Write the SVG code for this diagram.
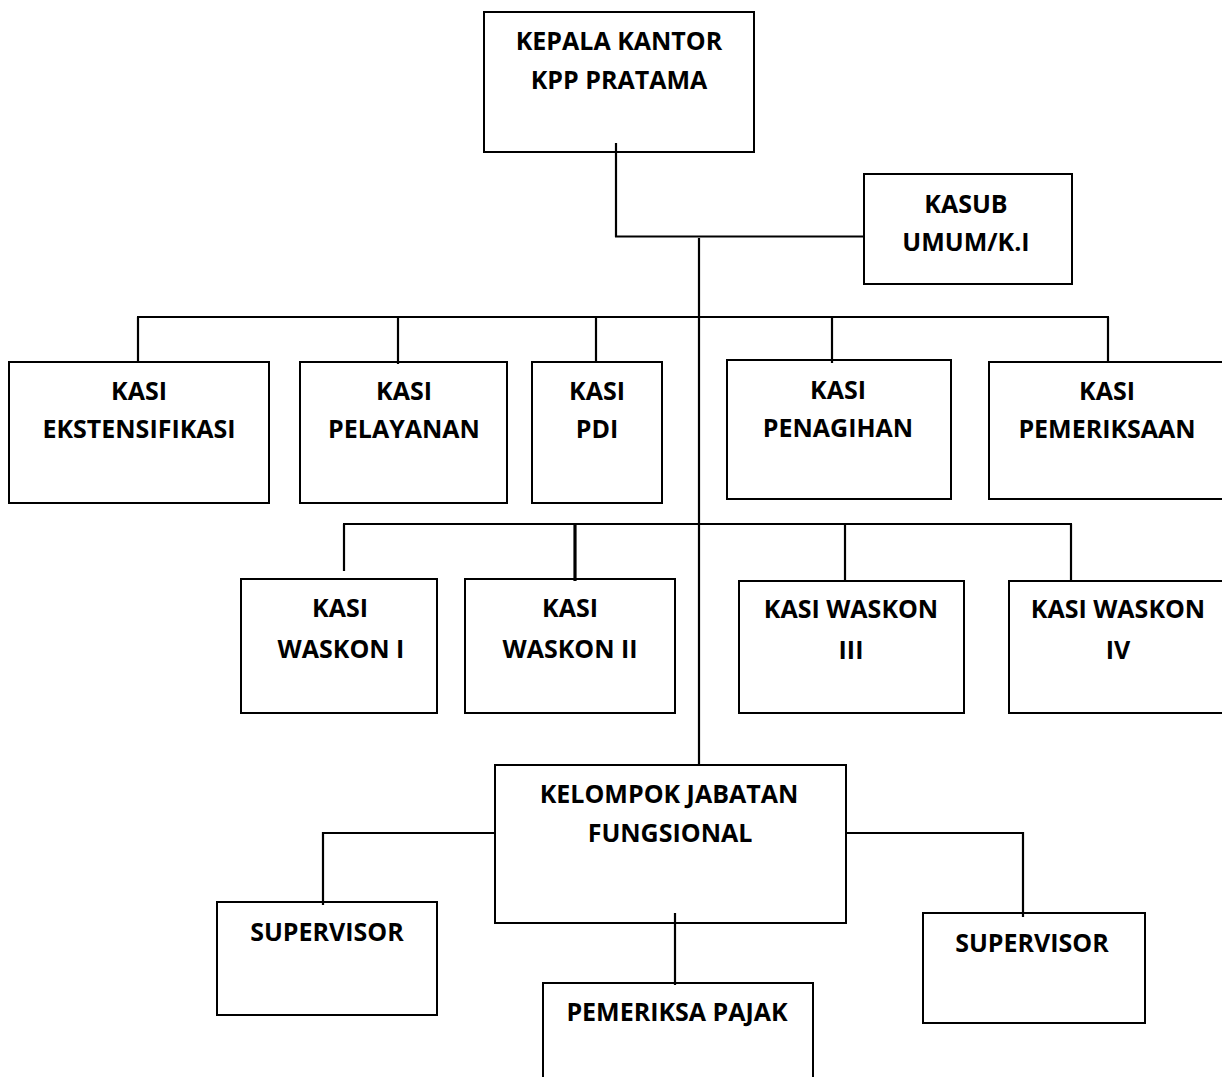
<svg xmlns="http://www.w3.org/2000/svg" width="1222" height="1077" viewBox="0 0 1222 1077">
<style>
.box{fill:#fff;stroke:#000;stroke-width:2}
.ln{fill:none;stroke:#000;stroke-width:2.2}
.t{font-family:"Open Sans","Liberation Sans",sans-serif;font-weight:bold;font-size:25px;fill:#000;text-anchor:middle}
</style>
<rect width="1222" height="1077" fill="#fff"/>
<g id="kepala"><rect class="box" x="484" y="12" width="270" height="140"/><text class="t" x="619" y="50">KEPALA KANTOR</text><text class="t" x="619" y="89">KPP PRATAMA</text></g>
<g id="kasub"><rect class="box" x="864" y="174" width="208" height="110"/><text class="t" x="966" y="213">KASUB</text><text class="t" x="966" y="251">UMUM/K.I</text></g>
<g id="ekstensifikasi"><rect class="box" x="9" y="362" width="260" height="141"/><text class="t" x="139" y="400">KASI</text><text class="t" x="139" y="438">EKSTENSIFIKASI</text></g>
<g id="pelayanan"><rect class="box" x="300" y="362" width="207" height="141"/><text class="t" x="404" y="400">KASI</text><text class="t" x="404" y="438">PELAYANAN</text></g>
<g id="pdi"><rect class="box" x="532" y="362" width="130" height="141"/><text class="t" x="597" y="400">KASI</text><text class="t" x="597" y="438">PDI</text></g>
<g id="penagihan"><rect class="box" x="727" y="360" width="224" height="139"/><text class="t" x="838" y="399">KASI</text><text class="t" x="838" y="437">PENAGIHAN</text></g>
<g id="pemeriksaan"><rect class="box" x="989" y="362" width="240" height="137"/><text class="t" x="1107" y="400">KASI</text><text class="t" x="1107" y="438">PEMERIKSAAN</text></g>
<g id="waskon1"><rect class="box" x="241" y="579" width="196" height="134"/><text class="t" x="340" y="617">KASI</text><text class="t" x="341" y="658">WASKON I</text></g>
<g id="waskon2"><rect class="box" x="465" y="579" width="210" height="134"/><text class="t" x="570" y="617">KASI</text><text class="t" x="570" y="658">WASKON II</text></g>
<g id="waskon3"><rect class="box" x="739" y="581" width="225" height="132"/><text class="t" x="851" y="618">KASI WASKON</text><text class="t" x="851" y="659">III</text></g>
<g id="waskon4"><rect class="box" x="1009" y="581" width="220" height="132"/><text class="t" x="1118" y="618">KASI WASKON</text><text class="t" x="1118" y="659">IV</text></g>
<g id="kelompok"><rect class="box" x="495" y="765" width="351" height="158"/><text class="t" x="669" y="803">KELOMPOK JABATAN</text><text class="t" x="670" y="842">FUNGSIONAL</text></g>
<g id="supervisor-left"><rect class="box" x="217" y="902" width="220" height="113"/><text class="t" x="327" y="941">SUPERVISOR</text></g>
<g id="supervisor-right"><rect class="box" x="923" y="913" width="222" height="110"/><text class="t" x="1032" y="952">SUPERVISOR</text></g>
<g id="pemeriksa-pajak"><path class="box" d="M543,1080 V983 H813 V1080"/><text class="t" x="677" y="1021">PEMERIKSA PAJAK</text></g>
<g id="connectors">
<line class="ln" x1="616" y1="143" x2="616" y2="237"/>
<line class="ln" x1="615" y1="236.5" x2="864" y2="236.5"/>
<line class="ln" x1="699" y1="238" x2="699" y2="765"/>
<line class="ln" x1="137" y1="317" x2="1109" y2="317"/>
<line class="ln" x1="138" y1="317" x2="138" y2="362"/>
<line class="ln" x1="398" y1="317" x2="398" y2="364"/>
<line class="ln" x1="596" y1="317" x2="596" y2="362"/>
<line class="ln" x1="832" y1="317" x2="832" y2="363"/>
<line class="ln" x1="1108" y1="317" x2="1108" y2="362"/>
<line class="ln" x1="343" y1="524" x2="1072" y2="524"/>
<line class="ln" x1="344" y1="524" x2="344" y2="571"/>
<line class="ln" x1="575" y1="524" x2="575" y2="581" style="stroke-width:3.2"/>
<line class="ln" x1="845" y1="524" x2="845" y2="582"/>
<line class="ln" x1="1071" y1="524" x2="1071" y2="581"/>
<polyline class="ln" points="495,833 323,833 323,905"/>
<polyline class="ln" points="846,833 1023,833 1023,917"/>
<line class="ln" x1="675" y1="913" x2="675" y2="985"/>
</g>
</svg>
